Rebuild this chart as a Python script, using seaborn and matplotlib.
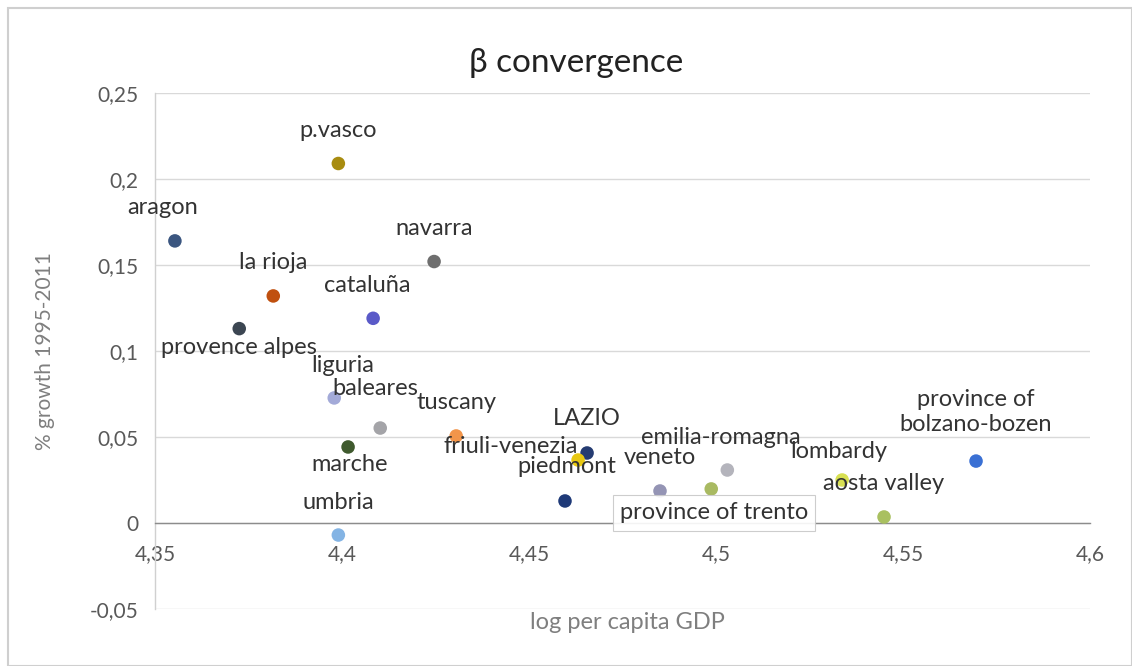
import matplotlib
matplotlib.use("Agg")
import matplotlib.pyplot as plt
from matplotlib.patches import Rectangle
from matplotlib.ticker import FuncFormatter, MultipleLocator
import seaborn as sns
import pandas as pd

# Regions with log per-capita GDP and growth 1995-2011
regions = [
    "aragon", "p.vasco", "navarra", "la rioja", "cataluña", "provence alpes",
    "liguria", "baleares", "marche", "tuscany", "LAZIO", "friuli-venezia",
    "piedmont", "umbria", "veneto", "province of trento", "emilia-romagna",
    "lombardy", "aosta valley", "province of\nbolzano-bozen",
]
log_gdp = [
    4.3553, 4.3990, 4.4246, 4.3816, 4.4083, 4.3725,
    4.3979, 4.4102, 4.4016, 4.4305, 4.4655, 4.4631,
    4.4596, 4.3990, 4.4850, 4.4987, 4.5030,
    4.5337, 4.5449, 4.5695,
]
growth = [
    0.164, 0.209, 0.152, 0.132, 0.119, 0.113,
    0.0727, 0.0552, 0.0442, 0.0506, 0.0407, 0.0366,
    0.0128, -0.007, 0.0186, 0.0198, 0.0308,
    0.025, 0.0035, 0.036,
]
colors = [
    "#3b5680", "#a88c10", "#6e6e6e", "#c0500f", "#5a5ac8", "#3c4652",
    "#a3aad8", "#a4a4a8", "#3f5a2e", "#f2954a", "#253c72", "#e8c812",
    "#1f3a78", "#84b4e4", "#9494b4", "#a9ba62", "#b4b4bc",
    "#d8e052", "#a9c060", "#3a70d4",
]
# label offsets in pixels (dx, dy) relative to each point
label_offsets = [
    (-12, 33), (0, 33), (0, 33), (0, 33), (-6, 33), (0, -19),
    (8, 32), (-5, 40), (2, -18), (0, 33), (0, 34), (-67, 14),
    (2, 34), (0, 33), (0, 33), (3, -24), (-7, 33),
    (-3, 28), (0, 33), (0, 49),
]

df = pd.DataFrame({"region": regions, "log_gdp": log_gdp, "growth": growth})

sns.set_style("white")
plt.rcParams["font.family"] = ["Lato", "DejaVu Sans"]

fig = plt.figure(figsize=(11.32, 6.66), dpi=100)
ax = fig.add_axes([0.137, 0.0856, 0.826, 0.7748])

sns.scatterplot(
    data=df, x="log_gdp", y="growth", hue="region",
    palette=dict(zip(regions, colors)), s=95, edgecolor="none",
    legend=False, ax=ax, zorder=3,
)

for name, x, y, (dx, dy) in zip(regions, log_gdp, growth, label_offsets):
    kw = {}
    if name == "province of trento":
        kw["bbox"] = dict(boxstyle="square,pad=0.3", fc="white",
                          ec="#c8c8c8", lw=0.8, alpha=0.9)
    ax.annotate(name, (x, y), xytext=(dx, dy), textcoords="offset pixels",
                ha="center", va="center", fontsize=17, color="#333333",
                linespacing=1.2, zorder=4, **kw)

ax.set_xlim(4.35, 4.6)
ax.set_ylim(-0.05, 0.25)
ax.xaxis.set_major_locator(MultipleLocator(0.05))
ax.yaxis.set_major_locator(MultipleLocator(0.05))

fmt = FuncFormatter(lambda v, _: ("%g" % round(v, 4)).replace(".", ","))
ax.xaxis.set_major_formatter(fmt)
ax.yaxis.set_major_formatter(fmt)

ax.grid(axis="y", color="#d9d9d9", lw=1)
ax.grid(axis="x", visible=False)
ax.set_axisbelow(True)

for side in ("top", "right"):
    ax.spines[side].set_visible(False)
ax.spines["bottom"].set_position(("data", 0))
ax.spines["bottom"].set_color("#8c8c8c")
ax.spines["bottom"].set_linewidth(1)
ax.spines["left"].set_color("#d0d0d0")
ax.spines["left"].set_linewidth(1)

ax.tick_params(axis="both", length=0, labelsize=15, labelcolor="#595959")
ax.tick_params(axis="x", pad=15)
ax.tick_params(axis="y", pad=12)

ax.set_xlabel("log per capita GDP", fontsize=17, color="#7f7f7f", va="center")
ax.xaxis.set_label_coords(0.505, -0.027)
ax.set_ylabel("% growth 1995-2011", fontsize=15, color="#7f7f7f", va="center")
ax.yaxis.set_label_coords(-0.118, 0.5)

fig.text(0.509, 0.905, "β convergence", ha="center", va="center",
         fontsize=24, color="#222222")

fig.patches.append(Rectangle((0.007, 0.0), 0.993, 0.988, transform=fig.transFigure,
                             fill=False, ec="#cfcfcf", lw=1.5))

fig.savefig("out.png", dpi=100)
